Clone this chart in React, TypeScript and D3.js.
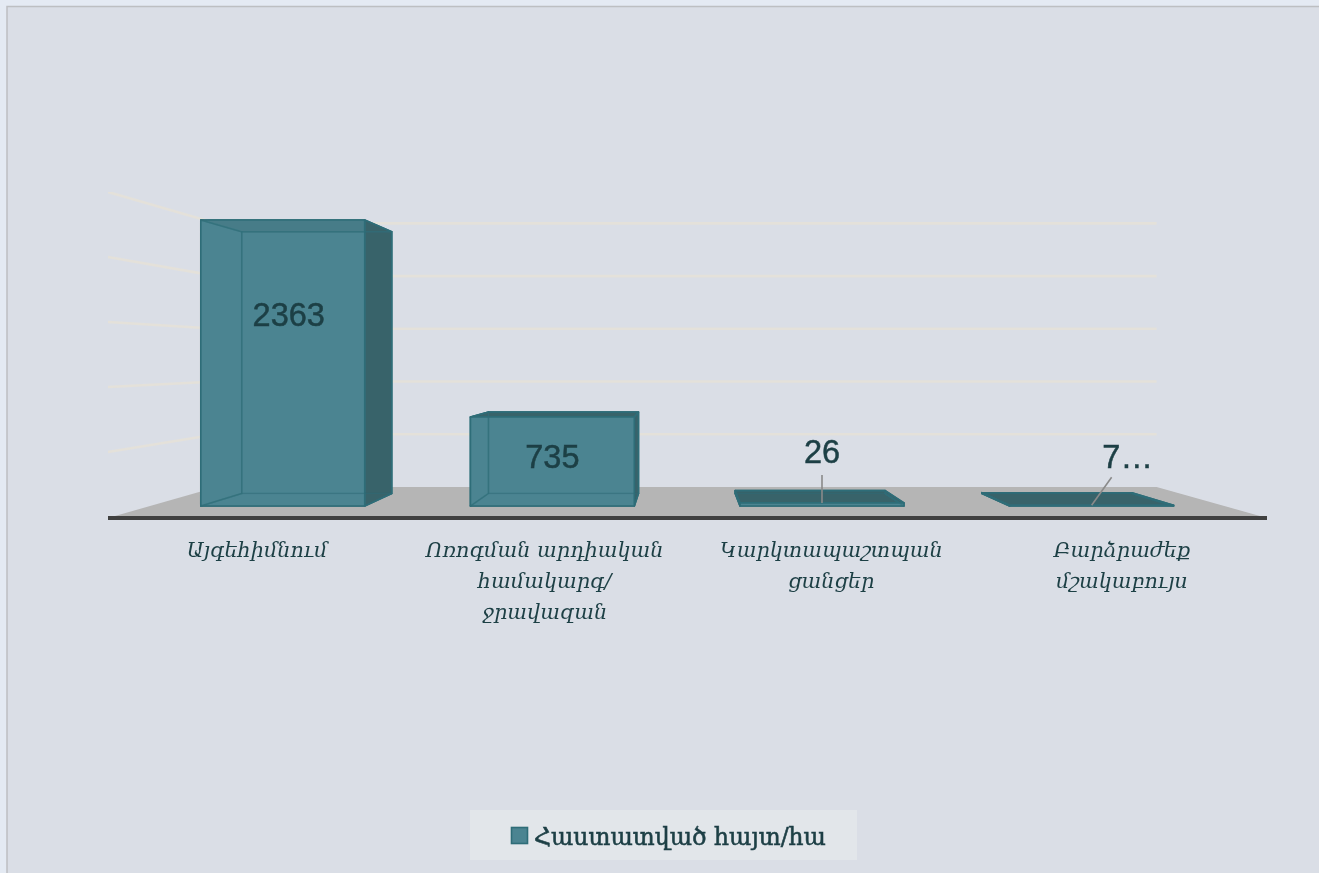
import React from 'react'
import * as d3 from 'd3'

const categories = ['Այգեհիմնում', 'Ոռոգման արդիական համակարգ/ ջրավազան', 'Կարկտապաշտպան ցանցեր', 'Բարձրաժեք մշակաբույս']
const categoryLines = [['Այգեհիմնում'], ['Ոռոգման արդիական', 'համակարգ/', 'ջրավազան'], ['Կարկտապաշտպան', 'ցանցեր'], ['Բարձրաժեք', 'մշակաբույս']]
const values = [2363, 735, 26, 7]
const valueLabels = ['2363', '735', '26', '7…']
const ticks = [0, 500, 1000, 1500, 2000, 2500]
const seriesName = 'Հաստատված հայտ/հա'

const width = 1319
const height = 873
const vp = { x: 683, y: 358 }
const k = { wall: 0.811, barFront: 0.931, barBack: 0.852 }

const x = d3.scaleBand<string>().domain(categories).range([108, 1267]).paddingInner(0.392).paddingOuter(0.197)
const y = d3.scaleLinear().domain([0, 2500]).range([517, 192])

// simple one point perspective, k=1 is the front edge of the floor
const project = (wx: number, v: number, z: number): [number, number] => [
  vp.x + (wx - vp.x) * z,
  vp.y + (y(v) - vp.y) * z,
]
const poly = (pts: [number, number][]) => d3.line()(pts) + 'Z'

const valueNudge: [number, number][] = [[6, 108], [0, 53], [0, -37], [36, -35]]
const categoryNudge = [4, 2, -1, 0]

const INK = '#1d3f45'
const FACE = '#4b8491'
const DARK = '#38636b'
const EDGE = '#2f6d78'

function Bar({ name, value }: { name: string; value: number }) {
  const x0 = x(name)!
  const x1 = x0 + x.bandwidth()
  const f = k.barFront
  const b = k.barBack
  const fbl = project(x0, 0, f), fbr = project(x1, 0, f), ftl = project(x0, value, f), ftr = project(x1, value, f)
  const bbl = project(x0, 0, b), bbr = project(x1, 0, b), btl = project(x0, value, b), btr = project(x1, value, b)
  const stroke = { stroke: EDGE, strokeWidth: 1.6, strokeLinejoin: 'round' as const }
  return (
    <g>
      <path d={poly([bbl, bbr, btr, btl])} fill={FACE} {...stroke} />
      <path d={poly([fbl, fbr, bbr, bbl])} fill={FACE} {...stroke} />
      <path d={poly([fbl, bbl, btl, ftl])} fill={FACE} {...stroke} />
      <path d={poly([ftl, ftr, btr, btl])} fill={DARK} {...stroke} />
      <path d={poly([fbr, bbr, btr, ftr])} fill={DARK} {...stroke} />
      <path d={poly([fbl, fbr, ftr, ftl])} fill={FACE} fillOpacity={0.75} {...stroke} />
      {/* rear edges show through the front pane */}
      <path d={d3.line()([fbl, bbl, btl, ftl])!} fill="none" stroke={EDGE} strokeWidth={1.4} strokeOpacity={0.7} />
      <path d={d3.line()([btl, btr])!} fill="none" stroke={EDGE} strokeWidth={1.4} strokeOpacity={0.7} />
      <path d={d3.line()([bbl, bbr, fbr])!} fill="none" stroke={EDGE} strokeWidth={1} strokeOpacity={0.45} />
    </g>
  )
}

export default function App() {
  const floorL = project(108, 0, k.wall)
  const floorR = project(1267, 0, k.wall)
  return (
    <svg width={width} height={height} style={{ position: 'absolute', left: 0, top: 0 }}>
      <defs>
        <filter id="soft" x="0" y="0" width="100%" height="100%">
          <feGaussianBlur stdDeviation={0.4} />
        </filter>
      </defs>
      <rect width={width} height={height} fill="#e4eaf3" />
      <rect x={7} y={6.5} width={width} height={height} fill="#dadee6" stroke="#bdbfc2" strokeWidth={1.5} />

      <g filter="url(#soft)">
        {ticks.slice(1).map(t => {
          const a = project(108, t, 1)
          const c = project(108, t, k.wall)
          const d = project(1267, t, k.wall)
          return <path key={t} d={d3.line()([a, c, d])!} fill="none" stroke="#e4e1da" strokeWidth={2.6} />
        })}

        <path d={poly([[108, y(0) + 1], [1267, y(0) + 1], floorR, floorL])} fill="#b5b5b5" />
        <line x1={108} x2={1267} y1={y(0) + 1} y2={y(0) + 1} stroke="#3f3f3f" strokeWidth={3.8} strokeLinecap="round" />

        {categories.map((c, i) => <Bar key={c} name={c} value={values[i]} />)}

        {categories.map((c, i) => {
          const cx = x(c)! + x.bandwidth() / 2
          const [tx, ty] = project(cx, values[i], k.barFront)
          const [dx, dy] = valueNudge[i]
          return (
            <g key={c}>
              {i > 1 && (
                <line x1={tx} y1={ty} x2={tx + (i === 3 ? 20 : 0)} y2={ty - 28} stroke="#8a8a8a" strokeWidth={1.6} />
              )}
              <text x={tx + dx} y={ty + dy - 2.5} textAnchor="middle" fontFamily="Liberation Sans" fontSize={32.5} fill={INK} stroke={INK} strokeWidth={0.5}>
                {valueLabels[i]}
              </text>
            </g>
          )
        })}

        {categories.map((c, i) => (
          <text key={c} textAnchor="middle" fontFamily="DejaVu Serif" fontStyle="italic" fontSize={20.8} fill={INK}>
            {categoryLines[i].map((line, j) => (
              <tspan key={j} x={x(c)! + x.bandwidth() / 2 + categoryNudge[i]} y={557 + j * 31}>{line}</tspan>
            ))}
          </text>
        ))}

        <rect x={470} y={810} width={387} height={50} fill="#e2e6ea" />
        <rect x={511.5} y={827.5} width={16} height={16} fill={FACE} stroke={EDGE} strokeWidth={1.6} />
        <text x={534} y={845} fontFamily="DejaVu Serif" fontSize={25} fill={INK} stroke={INK} strokeWidth={0.6} textLength={292} lengthAdjust="spacingAndGlyphs">{seriesName}</text>
      </g>
    </svg>
  )
}
